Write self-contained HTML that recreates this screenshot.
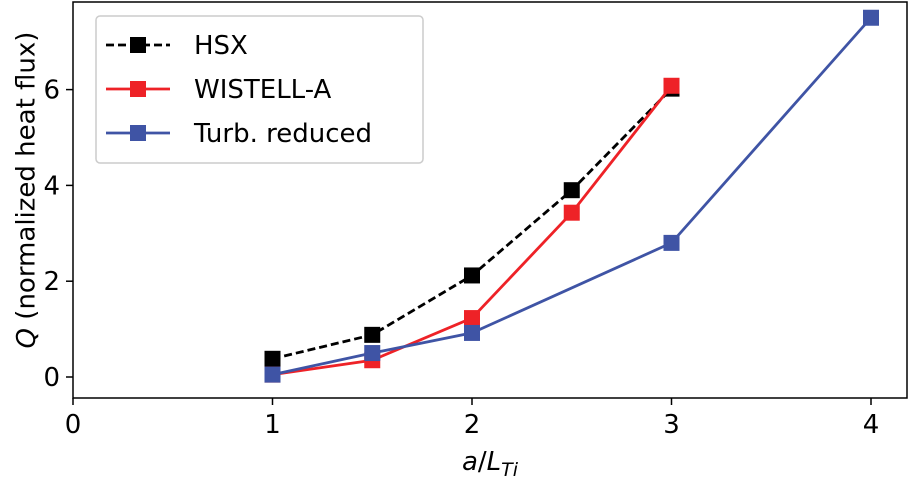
<!DOCTYPE html>
<html><head><meta charset="utf-8"><style>
html,body{margin:0;padding:0;background:#fff;}
svg{display:block;font-family:"DejaVu Sans","Liberation Sans",sans-serif;}
</style></head><body>
<svg id="chart" width="912" height="477">
<g id="marks"></g>
<rect x="73" y="2" width="834" height="396" fill="none" stroke="#000" stroke-width="1.5"/>
<g id="axes"></g>
<text x="27" y="190" transform="rotate(-90 27 190)" text-anchor="middle" font-size="26" dominant-baseline="middle"><tspan font-style="italic">Q</tspan> (normalized heat flux)</text>
<text x="490" y="470" text-anchor="middle" font-size="26"><tspan font-style="italic">a</tspan>/<tspan font-style="italic">L</tspan><tspan font-style="italic" font-size="19" dy="6">Ti</tspan></text>
<g>
<rect x="96" y="16" width="327" height="147" rx="4" fill="#fff" stroke="#ccc" stroke-width="1.5"/>
<g>
<line x1="106" y1="45" x2="170" y2="45" stroke="#000" stroke-width="2.8" stroke-dasharray="8,4"/><rect x="130" y="37" width="16" height="16" fill="#000"/>
<text x="194" y="54" font-size="26">HSX</text></g>
<g>
<line x1="106" y1="89" x2="170" y2="89" stroke="#ee2227" stroke-width="2.8"/><rect x="130" y="81" width="16" height="16" fill="#ee2227"/>
<text x="194" y="98" font-size="26">WISTELL-A</text></g>
<g>
<line x1="106" y1="133" x2="170" y2="133" stroke="#3f54a5" stroke-width="2.8"/><rect x="130" y="125" width="16" height="16" fill="#3f54a5"/>
<text x="194" y="142" font-size="26">Turb. reduced</text></g>
</g>
</svg>
<script>
const hsxX=[1,1.5,2,2.5,3];
const hsxY=[0.38,0.88,2.12,3.9,6.02];
const wisX=[1,1.5,2,2.5,3];
const wisY=[0.05,0.35,1.23,3.43,6.08];
const turbX=[1,1.5,2,3,4];
const turbY=[0.05,0.5,0.92,2.8,7.5];
const xTicks=[0,1,2,3,4];
const yTicks=[0,2,4,6];
const NS='http://www.w3.org/2000/svg';
function sx(v){return 73+v*199.5;}
function sy(v){return 377-v*47.9;}
const marks=document.getElementById('marks');
const axes=document.getElementById('axes');
function series(xs,ys,color,dash,name){
  const g=document.createElementNS(NS,'g');
  
  
  const p=document.createElementNS(NS,'polyline');
  p.setAttribute('points',xs.map((x,i)=>sx(x)+','+sy(ys[i])).join(' '));
  p.setAttribute('fill','none');p.setAttribute('stroke',color);p.setAttribute('stroke-width','2.8');
  if(dash)p.setAttribute('stroke-dasharray','8,4');
  
  
  g.appendChild(p);
  xs.forEach((x,i)=>{
    const r=document.createElementNS(NS,'rect');
    r.setAttribute('x',sx(x)-8);r.setAttribute('y',sy(ys[i])-8);
    r.setAttribute('width',16);r.setAttribute('height',16);r.setAttribute('fill',color);
    
    
    g.appendChild(r);
  });
  marks.appendChild(g);
}
series(hsxX,hsxY,'#000',true,'series-hsx');
series(wisX,wisY,'#ee2227',false,'series-wistell-a');
series(turbX,turbY,'#3f54a5',false,'series-turb-reduced');
xTicks.forEach(t=>{
  const l=document.createElementNS(NS,'line');
  l.setAttribute('x1',sx(t));l.setAttribute('x2',sx(t));l.setAttribute('y1',398);l.setAttribute('y2',405);
  l.setAttribute('stroke','#000');l.setAttribute('stroke-width','1.5');
  
  
  axes.appendChild(l);
  const tx=document.createElementNS(NS,'text');
  tx.setAttribute('x',sx(t));tx.setAttribute('y',433);tx.setAttribute('text-anchor','middle');tx.setAttribute('font-size','26');
  tx.textContent=t;
  
  
  axes.appendChild(tx);
});
yTicks.forEach(t=>{
  const l=document.createElementNS(NS,'line');
  l.setAttribute('x1',66);l.setAttribute('x2',73);l.setAttribute('y1',sy(t));l.setAttribute('y2',sy(t));
  l.setAttribute('stroke','#000');l.setAttribute('stroke-width','1.5');
  
  
  axes.appendChild(l);
  const tx=document.createElementNS(NS,'text');
  tx.setAttribute('x',60);tx.setAttribute('y',sy(t)+9);tx.setAttribute('text-anchor','end');tx.setAttribute('font-size','26');
  tx.textContent=t;
  
  
  axes.appendChild(tx);
});
</script>
</body></html>
